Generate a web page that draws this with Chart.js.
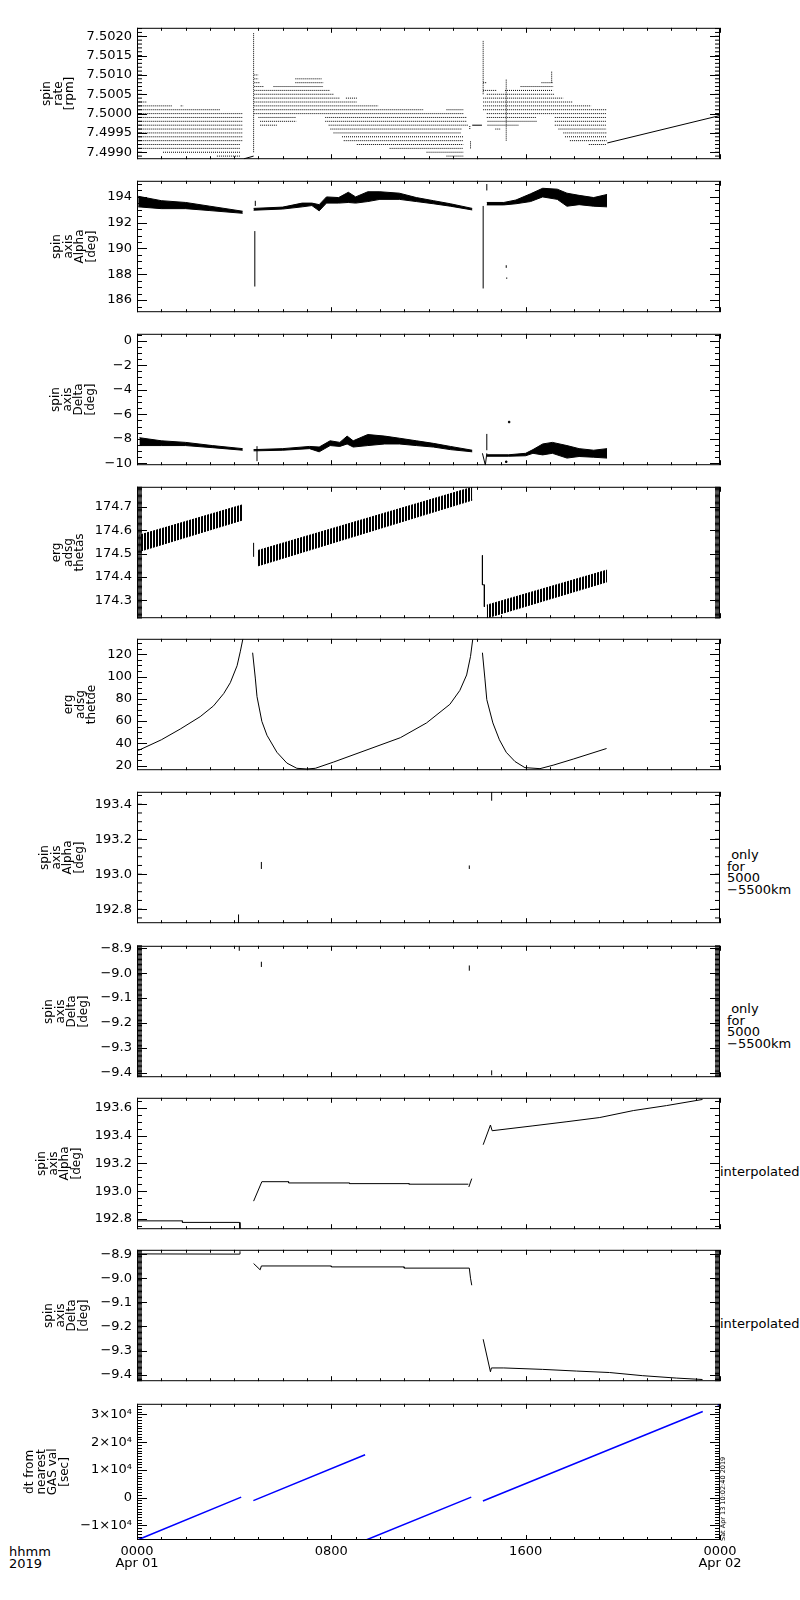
<!DOCTYPE html>
<html>
<head>
<meta charset="utf-8">
<script src="https://cdn.jsdelivr.net/npm/chart.js@4.4.1/dist/chart.umd.min.js"></script>
<style>
  body { margin: 0; background: #fff; width: 800px; height: 1600px; position: relative; overflow: hidden; }
  canvas { position: absolute; left: 0; }
  .note { position: absolute; font-family: 'DejaVu Sans', sans-serif; font-size: 13px; line-height: 11.7px; color: #000; white-space: pre; }
  .stamp { position: absolute; font-family: 'DejaVu Sans', sans-serif; font-size: 6.5px; line-height: 6px; white-space: nowrap;
           transform-origin: 0 0; transform: rotate(-90deg); z-index: 2; }
</style>
</head>
<body>
<div class="note" style="left:9px;top:1546px">hhmm
2019</div>
<div class="note" style="left:727px;top:849px"> only
for
5000
−5500km</div>
<div class="note" style="left:727px;top:1003px"> only
for
5000
−5500km</div>
<div class="note" style="left:720px;top:1166px">interpolated</div>
<div class="note" style="left:720px;top:1318px">interpolated</div>
<div class="stamp" style="left:720px;top:1541px">Sat Apr 13 10:02:40 2019</div>

<script>
// time axis, hours of 2019-04-01
const hourTicks = [0, 8, 16, 24];
const hourLabels = [['0000', 'Apr 01'], '0800', '1600', ['0000', 'Apr 02']];

// panel 1: spin rate, quantised levels drawn as dotted runs
const rateTicks = [7.4990, 7.4995, 7.5000, 7.5005, 7.5010, 7.5015, 7.5020];
const rateLabels = ['7.4990', '7.4995', '7.5000', '7.5005', '7.5010', '7.5015', '7.5020'];
const rateLevel = [7.5003, 7.5002, 7.5002, 7.5001, 7.5000, 7.4999, 7.4998, 7.4997, 7.4996, 7.4995, 7.4994, 7.4993, 7.4992, 7.4991, 7.4990, 7.4989,
  7.5010, 7.5009, 7.5009, 7.5008, 7.5008, 7.5007, 7.5007, 7.5006, 7.5005, 7.5004, 7.5004, 7.5003, 7.5002, 7.5001, 7.5001, 7.5000,
  7.4999, 7.4999, 7.4998, 7.4998, 7.4997, 7.4997, 7.4996, 7.4995, 7.4994, 7.4993, 7.4992, 7.4991, 7.4990, 7.4989,
  7.5008, 7.5008, 7.5007, 7.5006, 7.5006, 7.5005, 7.5004, 7.5003, 7.5002, 7.5001, 7.5000, 7.4999, 7.4999, 7.4998, 7.4998,
  7.4997, 7.4997, 7.4996, 7.4996, 7.4995, 7.4994, 7.4993, 7.4992];
const rateFrom = [0.07, 0.07, 1.8, 0.07, 0.07, 0.07, 0.07, 0.07, 0.07, 0.07, 0.07, 0.07, 0.07, 0.07, 1.07, 3.29,
  4.83, 4.83, 6.52, 4.83, 6.52, 4.83, 5.62, 4.83, 4.83, 4.83, 8.6, 4.83, 4.83, 4.83, 12.74, 4.83,
  5.0, 7.75, 5.07, 7.75, 5.07, 7.89, 7.96, 8.09, 8.44, 8.51, 9.05, 10.4, 11.92, 12.74,
  14.25, 16.65, 15.79, 14.25, 15.15, 14.4, 14.25, 14.25, 14.25, 14.25, 14.4, 14.4, 17.2, 14.43, 17.2,
  14.43, 17.2, 14.75, 17.35, 17.55, 17.62, 17.82, 18.6];
const rateTo = [0.41, 1.44, 1.9, 3.43, 4.36, 4.36, 4.36, 4.36, 4.36, 4.36, 4.36, 4.36, 4.25, 4.25, 4.25, 4.25,
  5.0, 5.0, 7.61, 5.07, 7.68, 5.2, 7.68, 7.96, 8.09, 8.37, 9.05, 9.05, 9.94, 11.78, 13.43, 13.43,
  6.56, 13.57, 6.56, 13.57, 5.76, 13.64, 13.36, 13.36, 13.43, 13.43, 13.43, 13.43, 13.43, 13.43,
  14.4, 17.13, 17.13, 14.8, 17.13, 17.2, 17.55, 17.95, 18.7, 19.33, 19.33, 16.45, 19.33, 16.45, 19.33,
  15.7, 19.33, 14.95, 19.33, 19.33, 19.33, 19.33, 19.33];
const rateSpikeT = [4.8, 14.25, 15.2, 17.07, 13.73, 13.7];
const rateSpikeLo = [7.4990, 7.5005, 7.4993, 7.5008, 7.4991, 7.4996];
const rateSpikeHi = [7.5021, 7.5019, 7.5009, 7.5011, 7.4993, 7.4997];
const rateLineT = [4.4, 4.8, null, 13.8, 14.2, null, 19.36, 24];
const rateLineV = [7.49883, 7.4989, null, 7.4997, 7.4997, null, 7.49924, 7.49995];

// panel 2: spin axis alpha, scatter band envelope
const alphaTicks = [186, 188, 190, 192, 194];
const alphaLabels = ['186', '188', '190', '192', '194'];
const alphaT = [0.05, 1.0, 2.0, 3.0, 4.35, null, 4.8, 6.0, 6.8, 7.2, 7.5, 7.8, 8.3, 8.7, 9.0, 9.5, 10.0, 10.8, 11.5, 12.2, 12.9, 13.8, null,
  14.4, 15.1, 15.6, 16.2, 16.7, 17.3, 17.7, 18.2, 18.8, 19.35];
const alphaHi = [194.05, 193.71, 193.57, 193.28, 192.89, null, 193.11, 193.21, 193.52, 193.52, 193.4, 194.0, 193.95, 194.36, 194.0, 194.4, 194.4, 194.29, 193.95, 193.71, 193.47, 193.11, null,
  193.57, 193.57, 193.76, 194.24, 194.67, 194.6, 194.29, 194.12, 193.95, 194.19];
const alphaLo = [193.23, 193.09, 193.09, 192.94, 192.73, null, 192.97, 193.06, 193.23, 193.33, 192.92, 193.52, 193.52, 193.57, 193.52, 193.64, 193.81, 193.81, 193.64, 193.47, 193.28, 192.99, null,
  193.38, 193.38, 193.47, 193.64, 194.0, 193.81, 193.28, 193.4, 193.28, 193.23];
const alphaSpikeT = [4.85, 4.87, 14.25, 14.4, 15.2, 15.22];
const alphaSpikeLo = [187.05, 193.3, 186.9, 194.5, 188.5, 187.65];
const alphaSpikeHi = [191.35, 193.7, 193.3, 195.0, 188.7, 187.75];

// panel 3: spin axis delta
const deltaTicks = [-10, -8, -6, -4, -2, 0];
const deltaLabels = ['−10', '−8', '−6', '−4', '−2', '0'];
const deltaT = [0.1, 1.0, 2.0, 3.1, 4.35, null, 4.8, 6.0, 7.1, 7.5, 7.95, 8.35, 8.65, 8.9, 9.5, 10.2, 10.8, 11.5, 12.2, 12.9, 13.8, null,
  14.4, 15.3, 16.0, 16.3, 16.7, 17.1, 17.7, 18.2, 18.8, 19.35];
const deltaHi = [-7.91, -8.16, -8.29, -8.55, -8.8, null, -8.88, -8.8, -8.62, -8.67, -8.16, -8.29, -7.78, -8.16, -7.65, -7.78, -7.95, -8.16, -8.37, -8.62, -8.93, null,
  -9.3, -9.3, -9.18, -8.88, -8.42, -8.29, -8.55, -8.8, -8.93, -8.8];
const deltaLo = [-8.55, -8.55, -8.55, -8.72, -8.93, null, -8.98, -8.93, -8.8, -9.06, -8.55, -8.62, -8.42, -8.67, -8.55, -8.42, -8.42, -8.55, -8.67, -8.88, -9.06, null,
  -9.42, -9.42, -9.38, -9.18, -9.31, -9.18, -9.57, -9.44, -9.5, -9.57];
const deltaMarkT = [4.94, 4.94, null, 14.22, 14.34, 14.4, null, 14.4, 14.4];
const deltaMarkV = [-9.82, -8.6, null, -9.18, -10.15, -9.18, null, -8.93, -7.6];
const deltaDotT = [15.32, 15.2];
const deltaDotV = [-6.63, -9.87];

// panel 4: erg adsg thetas (sawtooth band)
const thetasTicks = [174.3, 174.4, 174.5, 174.6, 174.7];
const thetasLabels = ['174.3', '174.4', '174.5', '174.6', '174.7'];
const thetasT = [0.1, 4.35, null, 4.94, 13.8, null, 14.4, 19.35];
const thetasHi = [174.58, 174.71, null, 174.513, 174.785, null, 174.28, 174.43];
const thetasLo = [174.51, 174.645, null, 174.447, 174.73, null, 174.225, 174.38];
const thetasMarkT = [4.8, 4.8, null, 14.22, 14.22, 14.3, 14.3];
const thetasMarkV = [174.487, 174.547, null, 174.493, 174.367, 174.367, 174.273];

// panel 5: erg adsg thetde
const thetdeTicks = [20, 40, 60, 80, 100, 120];
const thetdeLabels = ['20', '40', '60', '80', '100', '120'];
const thetdeT = [0.05, 1.0, 1.78, 2.6, 3.15, 3.57, 3.84, 4.12, 4.25, 4.36, null,
  4.76, 4.87, 4.94, 5.14, 5.35, 5.76, 6.17, 6.58, 7.0, 7.34, 8.09, 10.84, 11.92, 12.88, 13.29, 13.57, 13.73, 13.82, null,
  14.22, 14.32, 14.4, 14.65, 14.92, 15.2, 15.56, 15.97, 16.59, 17.13, 17.96, 19.33];
const thetdeV = [33.5, 43.1, 52.8, 63.9, 73.6, 84.7, 94.4, 109.7, 122.2, 133.9, null,
  121.4, 98.6, 81.9, 59.7, 47.2, 31.9, 22.2, 17.5, 16.9, 17.5, 23.1, 45.0, 58.3, 75.0, 87.5, 101.4, 118.1, 133.3, null,
  121.4, 98.6, 79.2, 58.3, 43.1, 31.9, 23.6, 18.1, 17.2, 20.3, 25.8, 35.3];

// panels 6/7: values only for 5000-5500 km
const onlyAlphaTicks = [192.8, 193.0, 193.2, 193.4];
const onlyAlphaLabels = ['192.8', '193.0', '193.2', '193.4'];
const onlyAlphaT = [4.18, 5.12, 13.68, 14.6];
const onlyAlphaLo = [192.72, 193.03, 193.03, 193.42];
const onlyAlphaHi = [192.77, 193.07, 193.05, 193.471];
const onlyDeltaTicks = [-9.4, -9.3, -9.2, -9.1, -9.0, -8.9];
const onlyDeltaLabels = ['−9.4', '−9.3', '−9.2', '−9.1', '−9.0', '−8.9'];
const onlyDeltaT = [4.21, 5.12, 13.68, 14.6];
const onlyDeltaLo = [-8.91, -8.975, -8.99, -9.41];
const onlyDeltaHi = [-8.89, -8.954, -8.969, -9.39];

// panels 8/9: interpolated
const interpAlphaTicks = [192.8, 193.0, 193.2, 193.4, 193.6];
const interpAlphaLabels = ['192.8', '193.0', '193.2', '193.4', '193.6'];
const interpAlphaT = [0, 1.87, 1.87, 4.22, 4.24, null, 4.8, 5.14, 6.24, 6.24, 8.75, 8.75, 11.2, 11.2, 13.64, null, 13.66, 13.78, null,
  14.25, 14.55, 14.62, 16.3, 17.7, 19.05, 20.43, 21.8, 23.28];
const interpAlphaV = [192.786, 192.786, 192.775, 192.775, 192.73, null, 192.928, 193.068, 193.068, 193.059, 193.059, 193.054, 193.054, 193.05, 193.05, null, 193.03, 193.09, null,
  193.334, 193.476, 193.435, 193.47, 193.5, 193.53, 193.58, 193.616, 193.66];
const interpDeltaT = [0, 4.22, 4.24, null, 4.8, 5.07, 5.12, 8.0, 8.0, 11.0, 11.0, 13.68, 13.73, 13.78, null,
  14.25, 14.55, 14.59, 15.1, 16.7, 18.1, 19.45, 20.8, 22.2, 23.28];
const interpDeltaV = [-8.899, -8.9, -8.888, null, -8.939, -8.965, -8.949, -8.949, -8.953, -8.953, -8.958, -8.958, -9.0, -9.029, null,
  -9.253, -9.388, -9.372, -9.372, -9.378, -9.385, -9.391, -9.404, -9.414, -9.42];

// panel 10: dt from nearest GAS value
const dtTicks = [-10000, 0, 10000, 20000, 30000];
const dtLabels = ['−1×10⁴', '0', '1×10⁴', '2×10⁴', '3×10⁴'];
const dtT = [0, 4.29, null, 4.79, 9.39, null, 9.43, 13.76, null, 14.24, 23.29, null, 23.9, 24];
const dtV = [-15300, 230, null, -1050, 15470, null, -15230, 230, null, -1160, 31050, null, 33300, 33700];

// ---------- helpers ----------
function path(t, v) {
  return t.map((x, i) => x === null ? { x: t[i - 1], y: null } : { x: x, y: v[i] });
}
function runs(level, from, to) {
  const pts = [];
  level.forEach((l, i) => { pts.push({ x: from[i], y: l }, { x: to[i], y: l }, { x: to[i], y: null }); });
  return pts;
}
function bars(t, lo, hi) {
  const pts = [];
  t.forEach((x, i) => { pts.push({ x: x, y: lo[i] }, { x: x, y: hi[i] }, { x: x, y: null }); });
  return pts;
}
function line(data, extra) {
  return Object.assign({ data: data, borderColor: '#000', borderWidth: 1, pointRadius: 0, fill: false, tension: 0 }, extra || {});
}
function band(t, hi, lo, color) {
  const out = [];
  let seg = [];
  const flush = () => {
    if (!seg.length) return;
    out.push(line(seg.map(i => ({ x: t[i], y: hi[i] })), { fill: '+1', backgroundColor: color, borderColor: color }));
    out.push(line(seg.map(i => ({ x: t[i], y: lo[i] })), { borderColor: color }));
    seg = [];
  };
  t.forEach((x, i) => { if (x === null) flush(); else seg.push(i); });
  flush();
  return out;
}
function hatch() {
  const c = document.createElement('canvas');
  c.width = 3; c.height = 1;
  const g = c.getContext('2d');
  g.fillStyle = '#000'; g.fillRect(0, 0, 2, 1);
  return g.createPattern(c, 'repeat');
}

// IDL style frame: box, inward major/minor ticks on all four sides
const idlFrame = {
  id: 'idlFrame',
  afterDatasetsDraw(chart, args, opts) {
    const { ctx, chartArea: a, scales: { x, y } } = chart;
    ctx.save();
    ctx.strokeStyle = '#000';
    ctx.lineWidth = 1;
    ctx.strokeRect(a.left + 0.5, a.top + 0.5, a.right - a.left - 1, a.bottom - a.top - 1);
    ctx.beginPath();
    const n0 = Math.ceil(y.min / opts.minor - 1e-6), n1 = Math.floor(y.max / opts.minor + 1e-6);
    const dense = Math.abs(y.getPixelForValue(opts.minor) - y.getPixelForValue(0)) < 2;
    for (let n = n0; n <= n1; n++) {
      let py = y.getPixelForValue(n * opts.minor);
      if (!dense) py = Math.round(py) + 0.5;
      ctx.moveTo(a.left, py); ctx.lineTo(a.left + 5, py);
      ctx.moveTo(a.right, py); ctx.lineTo(a.right - 5, py);
    }
    y.ticks.forEach(t => {
      const py = Math.round(y.getPixelForValue(t.value)) + 0.5;
      ctx.moveTo(a.left, py); ctx.lineTo(a.left + 10, py);
      ctx.moveTo(a.right, py); ctx.lineTo(a.right - 10, py);
    });
    for (let hr = 0; hr <= 24; hr++) {
      const px = Math.round(x.getPixelForValue(hr)) + 0.5;
      const len = hourTicks.includes(hr) ? 5 : 3;
      ctx.moveTo(px, a.bottom); ctx.lineTo(px, a.bottom - len);
      ctx.moveTo(px, a.top); ctx.lineTo(px, a.top + len);
    }
    ctx.stroke();
    ctx.restore();
  }
};

Chart.defaults.font.family = "'DejaVu Sans', sans-serif";
Chart.defaults.color = '#000';

const PLOT_LEFT = 137, PLOT_RIGHT = 720, PLOT_H = 141, PAD = 8, TITLE_LH = 11.5;
const dotted = { borderDash: [1, 1] };

const panels = [
  { top: 23, title: ['spin', 'rate', '[rpm]'], titleX: 47, min: 7.49882, max: 7.50222, ticks: rateTicks, labels: rateLabels, minor: 0.0001,
    datasets: [line(runs(rateLevel, rateFrom, rateTo), dotted), line(bars(rateSpikeT, rateSpikeLo, rateSpikeHi), dotted), line(path(rateLineT, rateLineV))] },
  { top: 176, title: ['spin', 'axis', 'Alpha', '[deg]'], titleX: 57, min: 185.06, max: 195.25, ticks: alphaTicks, labels: alphaLabels, minor: 0.5,
    datasets: band(alphaT, alphaHi, alphaLo, '#000').concat([line(bars(alphaSpikeT, alphaSpikeLo, alphaSpikeHi))]) },
  { top: 329, title: ['spin', 'axis', 'Delta', '[deg]'], titleX: 56, min: -10.15, max: 0.56, ticks: deltaTicks, labels: deltaLabels, minor: 0.5,
    datasets: band(deltaT, deltaHi, deltaLo, '#000').concat([line(path(deltaMarkT, deltaMarkV)),
      line(path(deltaDotT, deltaDotV), { showLine: false, pointRadius: 1, pointStyle: 'rect', backgroundColor: '#000' })]) },
  { top: 482, title: ['erg', 'adsg', 'thetas'], titleX: 57, min: 174.224, max: 174.787, ticks: thetasTicks, labels: thetasLabels, minor: 0.005,
    datasets: band(thetasT, thetasHi, thetasLo, hatch()).concat([line(path(thetasMarkT, thetasMarkV))]) },
  { top: 634, title: ['erg', 'adsg', 'thetde'], titleX: 69, min: 15.8, max: 133.9, ticks: thetdeTicks, labels: thetdeLabels, minor: 5,
    datasets: [line(path(thetdeT, thetdeV))] },
  { top: 787, title: ['spin', 'axis', 'Alpha', '[deg]'], titleX: 45, min: 192.72, max: 193.471, ticks: onlyAlphaTicks, labels: onlyAlphaLabels, minor: 0.05,
    datasets: [line(bars(onlyAlphaT, onlyAlphaLo, onlyAlphaHi))] },
  { top: 941, title: ['spin', 'axis', 'Delta', '[deg]'], titleX: 49, min: -9.4175, max: -8.89, ticks: onlyDeltaTicks, labels: onlyDeltaLabels, minor: 0.005,
    datasets: [line(bars(onlyDeltaT, onlyDeltaLo, onlyDeltaHi))] },
  { top: 1093, title: ['spin', 'axis', 'Alpha', '[deg]'], titleX: 42, min: 192.726, max: 193.672, ticks: interpAlphaTicks, labels: interpAlphaLabels, minor: 0.05,
    datasets: [line(path(interpAlphaT, interpAlphaV))] },
  { top: 1245, title: ['spin', 'axis', 'Delta', '[deg]'], titleX: 49, min: -9.427, max: -8.882, ticks: onlyDeltaTicks, labels: onlyDeltaLabels, minor: 0.005,
    datasets: [line(path(interpDeltaT, interpDeltaV))] },
  { top: 1399, title: ['dt from', 'nearest', 'GAS val', '[sec]'], titleX: 30, min: -15233, max: 33837, ticks: dtTicks, labels: dtLabels, minor: 1000,
    datasets: [line(path(dtT, dtV), { borderColor: '#0000ff', borderWidth: 1.5 })] }
];

panels.forEach((p, i) => {
  const last = i === panels.length - 1;
  const xh = last ? 40 : 0;
  const c = document.createElement('canvas');
  c.width = 800;
  c.height = PAD + PLOT_H + (last ? xh : PAD);
  c.style.top = (p.top - PAD) + 'px';
  document.body.appendChild(c);
  new Chart(c, {
    type: 'line',
    data: { datasets: p.datasets },
    options: {
      responsive: false,
      animation: false,
      events: [],
      layout: { autoPadding: false, padding: { left: 0, right: 800 - PLOT_RIGHT, top: PAD, bottom: last ? 0 : PAD } },
      plugins: { legend: { display: false }, tooltip: { enabled: false }, idlFrame: { minor: p.minor } },
      scales: {
        x: {
          type: 'linear', min: 0, max: 24,
          grid: { display: false, drawTicks: false }, border: { display: false },
          afterBuildTicks: s => { s.ticks = hourTicks.map(v => ({ value: v })); },
          afterFit: s => { s.height = xh; },
          ticks: { display: last, autoSkip: false, maxRotation: 0, padding: 6, font: { size: 13, lineHeight: 12 / 13 },
                   callback: (v, k) => hourLabels[k] }
        },
        y: {
          type: 'linear', min: p.min, max: p.max,
          grid: { display: false, drawTicks: false }, border: { display: false },
          afterBuildTicks: s => { s.ticks = p.ticks.map(v => ({ value: v })); },
          afterFit: s => { s.width = PLOT_LEFT; },
          ticks: { autoSkip: false, padding: 5, font: { size: 13 }, callback: (v, k) => p.labels[k] },
          title: { display: true, text: p.title, font: { size: 12, lineHeight: TITLE_LH / 12 },
                   padding: { top: p.titleX - TITLE_LH / 2, bottom: 0 } }
        }
      }
    },
    plugins: [idlFrame]
  });
});
</script>
</body>
</html>
